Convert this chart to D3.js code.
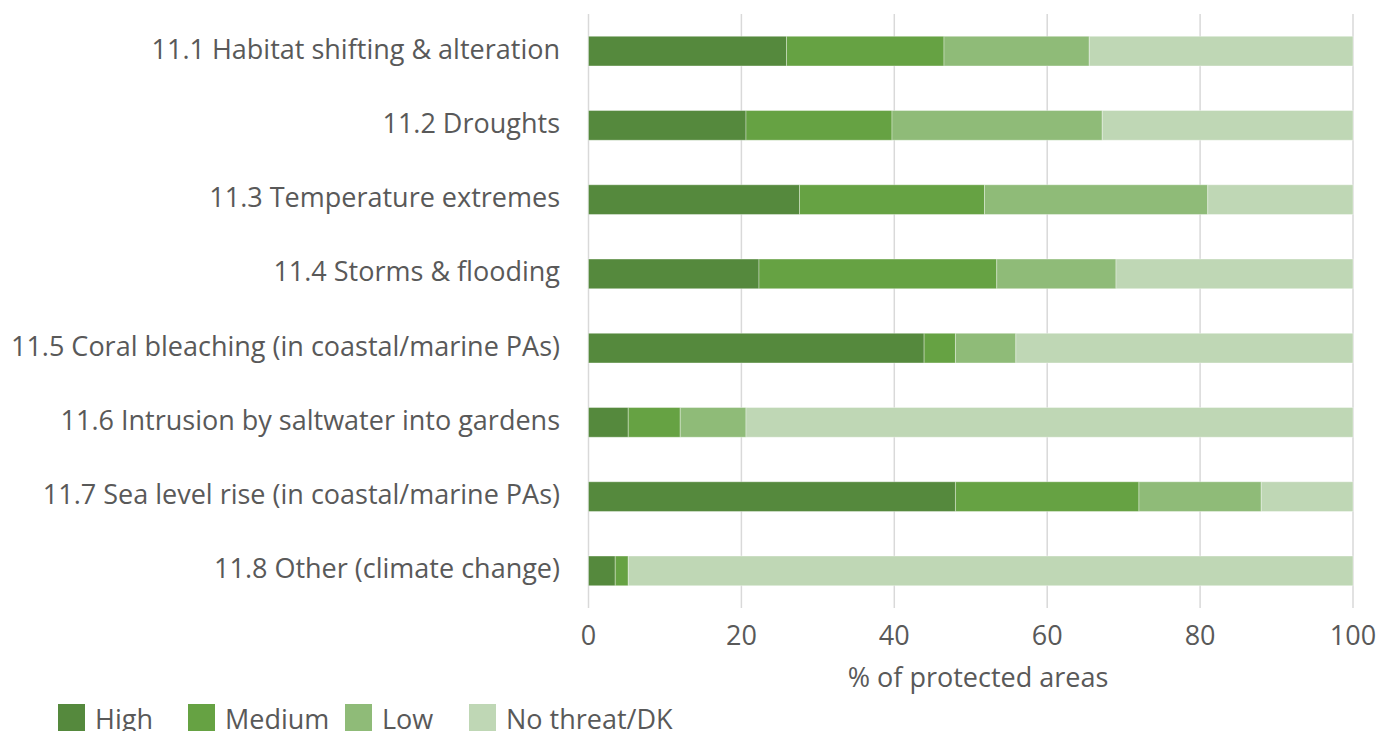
<!DOCTYPE html>
<html><head><meta charset="utf-8">
<script src="https://cdn.jsdelivr.net/npm/d3@7"></script>
<style>body{margin:0;background:#fff;} text{font-family:"Open Sans",sans-serif;}</style>
</head><body><svg id="c" width="1385" height="731"></svg>
<script>
const categories = ["11.1 Habitat shifting & alteration","11.2 Droughts","11.3 Temperature extremes","11.4 Storms & flooding","11.5 Coral bleaching (in coastal/marine PAs)","11.6 Intrusion by saltwater into gardens","11.7 Sea level rise (in coastal/marine PAs)","11.8 Other (climate change)"];
const seriesNames = ["High","Medium","Low","No threat/DK"];
const high   = [25.9, 20.6, 27.6, 22.3, 43.9, 5.2, 48.0, 3.5];
const medium = [20.6, 19.1, 24.2, 31.1, 4.1, 6.8, 24.0, 1.7];
const low    = [19.0, 27.5, 29.2, 15.6, 7.9, 8.6, 16.0, 0.0];
const noThreat = categories.map((c,i)=> +(100 - high[i]-medium[i]-low[i]).toFixed(1));
const xTicks = [0,20,40,60,80,100];
const colors = ["#55893d","#66a243","#8fbb78","#bfd7b5"];
const xTitle = "% of protected areas";

const rows = categories.map((c,i)=>({cat:c, "High":high[i], "Medium":medium[i], "Low":low[i], "No threat/DK":noThreat[i]}));
const stack = d3.stack().keys(seriesNames)(rows);

const svg = d3.select("#c");
const x = d3.scaleLinear().domain([0,100]).range([588.5,1353]);
const y = d3.scaleBand().domain(categories).range([14,608]).paddingInner(0.6).paddingOuter(0.3);
const txt = "#595959";

// gridlines
svg.append("g").selectAll("line").data(xTicks).join("line")
  .attr("x1",d=>x(d)).attr("x2",d=>x(d)).attr("y1",14).attr("y2",608)
  .attr("stroke","#d9d9d9").attr("stroke-width",1.5);

// bars
svg.append("g").selectAll("g").data(stack).join("g")
  .attr("fill",(d,i)=>colors[i])
  .selectAll("rect").data(d=>d.map(v=>({v,cat:v.data.cat}))).join("rect")
  .attr("x",d=>x(d.v[0])).attr("width",d=>Math.max(0,x(d.v[1])-x(d.v[0])))
  .attr("y",d=>y(d.cat)).attr("height",y.bandwidth())
  .attr("stroke","#ffffff").attr("stroke-opacity",0.35).attr("stroke-width",1);

// category labels
svg.append("g").selectAll("text").data(categories).join("text")
  .attr("x",560).attr("y",d=>y(d)+y.bandwidth()/2+7.5)
  .attr("text-anchor","end").attr("font-size",27).attr("fill",txt).text(d=>d);

// x tick labels
svg.append("g").selectAll("text").data(xTicks).join("text")
  .attr("x",d=>x(d)).attr("y",645).attr("text-anchor","middle")
  .attr("font-size",27).attr("fill",txt).text(d=>d);

svg.append("text").attr("x",978).attr("y",687).attr("text-anchor","middle")
  .attr("font-size",27).attr("fill",txt).text(xTitle);

// legend
const legX = [58, 188, 345, 469];
const lg = svg.append("g").selectAll("g").data(seriesNames).join("g")
  .attr("transform",(d,i)=>`translate(${legX[i]},704)`);
lg.append("rect").attr("width",27).attr("height",27).attr("fill",(d,i)=>colors[i]);
lg.append("text").attr("x",37).attr("y",25).attr("font-size",27).attr("fill",txt).text(d=>d);
</script></body></html>
